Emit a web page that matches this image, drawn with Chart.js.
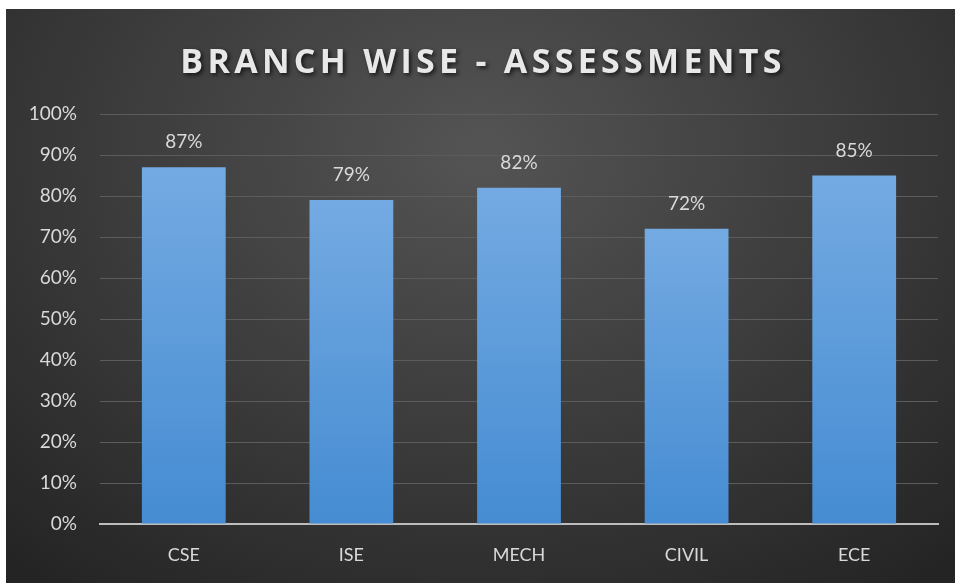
<!DOCTYPE html>
<html>
<head>
<meta charset="utf-8">
<script src="https://cdn.jsdelivr.net/npm/chart.js@4"></script>
<style>
  html, body { margin: 0; padding: 0; background: #ffffff; }
  body { width: 958px; height: 583px; position: relative; overflow: hidden; }
  #panel {
    position: absolute; left: 6px; top: 9px; width: 949px; height: 574px;
    background: radial-gradient(ellipse 75% 95% at 50% 25%, #545454 0%, #3a3a3a 55%, #242424 100%);
  }
  #branchChart { position: absolute; left: 0; top: 0; }
</style>
</head>
<body>
<div id="panel"></div>
<canvas id="branchChart" width="958" height="583"></canvas>
<script>
const titleText = 'BRANCH WISE - ASSESSMENTS';
const categories = ['CSE', 'ISE', 'MECH', 'CIVIL', 'ECE'];
const scores = [87, 79, 82, 72, 85];
const yTickStep = 10;
const yMax = 100;

// spaced-out title with a soft shadow (the built-in title can't do letter spacing)
const spacedTitle = {
  id: 'spacedTitle',
  afterDraw(chart) {
    const ctx = chart.ctx;
    ctx.save();
    ctx.font = 'bold 34px "Open Sans"';
    ctx.letterSpacing = '4.3px';
    ctx.fillStyle = '#e8e8e8';
    ctx.textAlign = 'center';
    ctx.textBaseline = 'middle';
    ctx.shadowColor = 'rgba(0,0,0,0.7)';
    ctx.shadowOffsetX = 2;
    ctx.shadowOffsetY = 2;
    ctx.shadowBlur = 4;
    ctx.fillText(titleText, chart.width / 2 + 4, 63);
    ctx.restore();
  }
};

// value labels above each bar
const barLabels = {
  id: 'barLabels',
  afterDatasetsDraw(chart) {
    const ctx = chart.ctx;
    const meta = chart.getDatasetMeta(0);
    ctx.save();
    ctx.font = '19px Lato';
    ctx.fillStyle = '#d9d9d9';
    ctx.textAlign = 'center';
    ctx.textBaseline = 'middle';
    meta.data.forEach((bar, i) => {
      ctx.fillText(scores[i] + '%', bar.x, bar.y - 25);
    });
    ctx.restore();
  }
};

function barGradient(context) {
  const chart = context.chart;
  if (!chart.chartArea) return '#5b9bd5';
  const yScale = chart.scales.y;
  const top = yScale.getPixelForValue(context.raw);
  const base = yScale.getPixelForValue(0);
  const g = chart.ctx.createLinearGradient(0, top, 0, base);
  g.addColorStop(0, '#74aae2');
  g.addColorStop(1, '#458cd2');
  return g;
}

const ctx = document.getElementById('branchChart').getContext('2d');
new Chart(ctx, {
  type: 'bar',
  data: {
    labels: categories,
    datasets: [{
      data: scores,
      backgroundColor: barGradient,
      borderWidth: 0,
      categoryPercentage: 1,
      barPercentage: 0.5
    }]
  },
  options: {
    responsive: false,
    animation: false,
    layout: { padding: { left: 0, right: 20, top: 114, bottom: 17 } },
    plugins: {
      legend: { display: false },
      tooltip: { enabled: false },
      title: { display: false }
    },
    scales: {
      x: {
        afterFit(scale) { scale.height = 42; },
        grid: { display: false, drawTicks: false },
        border: { display: true, color: '#bdbdbd', width: 2 },
        ticks: { color: '#d9d9d9', font: { family: 'Lato', size: 18 }, padding: 20 }
      },
      y: {
        min: 0,
        max: yMax,
        afterFit(scale) { scale.width = 100; },
        border: { display: false },
        grid: { color: '#5c5c5c', lineWidth: 1, drawTicks: false },
        ticks: {
          stepSize: yTickStep,
          color: '#d9d9d9',
          font: { family: 'Lato', size: 19 },
          padding: 23,
          callback: v => v + '%'
        }
      }
    }
  },
  plugins: [barLabels, spacedTitle]
});
</script>
</body>
</html>
